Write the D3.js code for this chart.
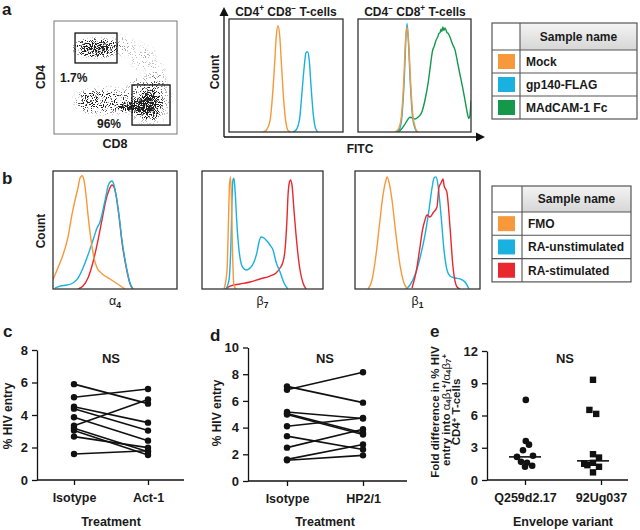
<!DOCTYPE html>
<html><head><meta charset="utf-8">
<script src="https://cdn.jsdelivr.net/npm/d3@7"></script>
<style>
body{margin:0;background:#fff}
svg{display:block}
text{font-family:"Liberation Sans",Arial,Helvetica,sans-serif;font-weight:bold;fill:#1a1a1a}
</style>
</head><body>
<script>
// ================= DATA =================
// Panel a – dot plot populations (CD8, CD4 channel units 0-1023)
const popCD8     = [350, 424, 283, 798, 715, 607, 782, 566, 740, 857, 690];
const popCD4     = [779, 299, 290, 272, 253, 244, 308, 797, 688, 507, 420];
const popSpreadX = [133, 183, 67, 70, 75, 67, 140, 83, 83, 58, 70];
const popSpreadY = [63, 91, 72, 100, 54, 32, 163, 72, 91, 109, 60];
const popDensity = [0.8, 0.32, 0.22, 1, 1, 0.85, 0.22, 0.12, 0.1, 0.12, 0.08];
const gateCD8 = [[175, 524], [649, 965]];
const gateCD4 = [[643, 914], [81, 444]];
const gateLabels = ["1.7%", "96%"];

// Panel a – histograms (FITC channel 0-100, count % of max)
const aCD4Mock  = [[30,0],[33,2],[36,10],[38,30],[40,60],[41.5,85],[43,94],[44.5,85],[46,60],[48,28],[50,8],[52,1],[54,0]];
const aCD4Gp140 = [[56,0],[59,2],[62,12],[64,35],[66,58],[67.5,70],[69,71],[70.5,62],[72,40],[74,15],[76,3],[78,0]];
const aCD8Mock  = [[33,0],[36,3],[38.5,15],[40.5,45],[42,80],[43.4,93],[44.8,80],[46.5,45],[48.5,15],[51,3],[53,0]];
const aCD8Gp140 = [[34,0],[37,3],[39,15],[41,48],[42.5,85],[43.4,96],[44.5,82],[46.2,45],[48.2,14],[50.5,3],[52.5,0]];
const aCD8MAdCAM = [[35.4,0],[38,2],[41,6],[44,11],[46,13],[48,12.5],[50.4,11.5],[53,13],[56.6,18],[59,27],[62,43],[64,58],[66,72],[67.5,76],[69,81],[70.5,84],[71.5,87],[72.6,88],[73.5,91],[74.3,89],[75,93],[76,90],[77,92],[78.8,88],[80,87],[81.4,84],[83.5,78],[86,72],[88,62],[90,52],[92.5,40],[94.7,28],[96.5,18],[98,12],[99,14],[100,28]];

// Panel b – histograms
const bA4FMO   = [[0,8],[4,18],[8.1,29],[12.1,44],[15.3,63],[17.7,75],[20.2,86],[21.8,94],[23.4,96],[25,92],[26.6,80],[28.2,63],[30.6,42],[33.1,26],[35.5,18],[39.5,13],[46,8.5],[52.4,4],[58,0]];
const bA4Unst  = [[1.6,0.8],[5.6,2.5],[11.3,3.4],[16.1,5.1],[20.2,9.3],[24.2,17.8],[28.2,28.8],[32.3,41.5],[35.5,51.7],[37.9,56.8],[40.3,67],[42.7,78.8],[44.4,87.3],[46,90.7],[47.6,91.5],[49.2,88],[50.8,79.7],[53.2,62.7],[55.6,41.5],[58.9,20.3],[62.1,5.1],[64.5,0]];
const bA4Stim  = [[20.2,0],[24.2,2.5],[28.2,9.3],[32.3,22.9],[36.3,41.5],[39.5,58.5],[42.7,75.4],[45.2,83.9],[47.6,88.1],[49.2,86.4],[50.8,79.7],[53.2,62],[55.6,40],[58.9,19],[62.1,4.5],[64.5,0]];
const bB7FMO   = [[18.2,0],[20.7,16],[21.9,58.5],[22.7,88],[23.6,95],[24.4,75],[25.2,33],[26.4,3.4],[28.1,0]];
const bB7Unst  = [[19.8,0],[22.3,7.6],[24,41.5],[24.8,75.4],[25.6,92.4],[26.4,94],[27.3,83.9],[28.9,54.2],[30.6,33],[33.1,19.5],[36.4,16.1],[39.7,17.8],[43,22.9],[45.5,31.4],[47.1,39.8],[48.8,44.1],[51.2,43.2],[52.9,41.5],[56.2,37.3],[58.7,33],[61.2,22.9],[64.5,14.4],[67.8,5.1],[71,0]];
const bB7Stim  = [[19.8,0],[23.1,2.5],[31.4,4.2],[39.7,5.9],[47.9,8.5],[56.2,11],[61.2,13.6],[64.5,17.8],[66.9,22.9],[68.6,33],[70.2,58.5],[71.1,79.7],[72.3,90.7],[73.1,92.4],[74.4,88.1],[76,67],[78.5,37.3],[81,16.1],[83.5,5.1],[86,0]];
const bB1FMO   = [[10.4,0],[13.6,7.6],[16.8,28.8],[20,58.5],[22.4,79.7],[24.8,92.4],[25.6,95],[27.2,90.7],[29.6,75.4],[32.8,45.8],[36,20.3],[39.2,5.1],[42.4,0]];
const bB1Unst  = [[40.8,0],[44,3.4],[48,11.9],[52,26.3],[56,45.8],[59.2,67],[61.6,85.6],[63.2,94],[64.8,95],[66.4,88.1],[68.8,62.7],[71.2,33],[73.6,16.1],[76,11],[80,9.3],[84,8.5],[88,5.9],[91.2,0]];
const bB1Stim  = [[45.6,0.8],[49,15],[52,35.6],[54,50],[56,58.5],[57.6,62.7],[60,61],[62.4,64.4],[65.6,69.5],[67.2,86.4],[68.8,89.8],[70.4,93.2],[71.2,88.1],[73.6,81.4],[76,52.5],[78.4,18.6],[81.6,1.7],[84,0]];

const legendA = ["Mock", "gp140-FLAG", "MAdCAM-1 Fc"];
const legendB = ["FMO", "RA-unstimulated", "RA-stimulated"];

// Panel c
const cCats = ["Isotype", "Act-1"];
const cIsotype = [5.9, 5.09, 4.51, 4.39, 3.86, 3.34, 3.18, 3.04, 2.67, 1.6];
const cAct1    = [4.7, 5.6, 3.53, 3.04, 2.42, 4.95, 1.74, 1.54, 1.99, 1.8];
const cTicks = [0, 2, 4, 6, 8];
// Panel d
const dCats = ["Isotype", "HP2/1"];
const dIsotype = [6.84, 7.09, 5.17, 5.05, 4.98, 4.1, 3.36, 2.5, 1.62, 1.55];
const dHP21    = [8.15, 5.87, 4.68, 3.6, 3.48, 4.72, 2.36, 3.88, 2.74, 1.92];
const dTicks = [0, 2, 4, 6, 8, 10];
// Panel e
const eCats = ["Q259d2.17", "92Ug037"];
const eQ259   = [7.45, 3.63, 3.29, 2.77, 2.15, 2.25, 1.69, 1.6, 1.32, 1.23];
const eQ259Jit = [0.1, 0.1, 0.5, -0.25, -1, 1, -0.5, 0.25, 0.9, 0];
const e92Ug   = [9.32, 6.52, 6.15, 2.4, 2.09, 1.51, 1.38, 1.6, 1.23, 0.71];
const e92UgJit = [-1, -1.45, -0.6, -1, -0.25, -2.1, -1.7, -1, -0.25, -1];
const eMedians = [2.15, 1.78];
const eMedJit = [0, -1];
const eTicks = [0, 3, 6, 9, 12];

// ================= DRAWING =================
const C = {orange:"#F7983A", cyan:"#1AB0E0", green:"#14984A", red:"#E8282E"};
const svg = d3.select("body").append("svg").attr("width",640).attr("height",530);
svg.append("rect").attr("width",640).attr("height",530).attr("fill","#fff");
const defs = svg.append("defs");
let clipN = 0;

function rich(sel, parts, size, k){
  k = k || 1;
  let cur = 0;
  parts.forEach(p=>{
    const t = sel.append("tspan").text(p.t);
    let target = 0, fs = size;
    if (p.s==="sup"){ target = -size*0.4*k; fs = size*0.68; }
    if (p.s==="sub"){ target = size*0.25*k; fs = size*0.68; }
    t.attr("dy", target-cur).attr("font-size", fs);
    if (p.w) t.attr("font-weight", p.w);
    cur = target;
  });
}

function letter(x,y,s){ svg.append("text").attr("x",x).attr("y",y).attr("font-size",17).text(s); }

// ---------- Panel a: dot plot ----------
letter(2,15,"a");
const sx = d3.scaleLinear().domain([0,1023]).range([54,177]);
const sy = d3.scaleLinear().domain([0,1023]).range([134,21]);
{
  const f = defs.append("filter").attr("id","speckle").attr("filterUnits","userSpaceOnUse")
    .attr("x",54).attr("y",21).attr("width",123).attr("height",113)
    .attr("color-interpolation-filters","sRGB");
  f.append("feTurbulence").attr("type","fractalNoise").attr("baseFrequency",0.9)
    .attr("numOctaves",1).attr("seed",4).attr("result","noise");
  f.append("feColorMatrix").attr("in","noise").attr("type","matrix")
    .attr("values","0 0 0 0 0  0 0 0 0 0  0 0 0 0 0  4 0 0 0 -1.5").attr("result","nA");
  f.append("feComposite").attr("in","SourceGraphic").attr("in2","nA").attr("operator","arithmetic")
    .attr("k1",0).attr("k2",4).attr("k3",-4).attr("k4",0).attr("result","dots");
  f.append("feColorMatrix").attr("in","dots").attr("type","matrix")
    .attr("values","1 0 0 0 0.12  0 1 0 0 0.12  0 0 1 0 0.12  0 0 0 1 0");
  defs.append("clipPath").attr("id","scClip").append("rect").attr("x",54).attr("y",21).attr("width",123).attr("height",113);
  const g = svg.append("g").attr("clip-path","url(#scClip)").append("g").attr("filter","url(#speckle)");
  popCD8.forEach((v,i)=>{
    const gr = defs.append("radialGradient").attr("id","pg"+i);
    const d = popDensity[i];
    gr.append("stop").attr("offset",0).attr("stop-color","#000").attr("stop-opacity",d);
    gr.append("stop").attr("offset",0.45).attr("stop-color","#000").attr("stop-opacity",d*0.8);
    gr.append("stop").attr("offset",0.8).attr("stop-color","#000").attr("stop-opacity",d*0.3);
    gr.append("stop").attr("offset",1).attr("stop-color","#000").attr("stop-opacity",0);
    g.append("ellipse").attr("cx",sx(v)).attr("cy",sy(popCD4[i]))
      .attr("rx",(sx(popSpreadX[i])-sx(0))*1.6).attr("ry",(sy(0)-sy(popSpreadY[i]))*1.6)
      .attr("fill",`url(#pg${i})`);
  });
  svg.append("rect").attr("x",54).attr("y",21).attr("width",123).attr("height",113)
    .attr("fill","none").attr("stroke","#777").attr("stroke-width",1);
  gateCD8.forEach((gx,i)=>{
    svg.append("rect").attr("x",sx(gx[0])).attr("y",sy(gateCD4[i][1]))
      .attr("width",sx(gx[1])-sx(gx[0])).attr("height",sy(gateCD4[i][0])-sy(gateCD4[i][1]))
      .attr("fill","none").attr("stroke","#111").attr("stroke-width",1.3);
  });
  svg.append("text").attr("x",sx(gateCD8[0][0])-15).attr("y",sy(gateCD4[0][0])+19).attr("font-size",12).text(gateLabels[0]);
  svg.append("text").attr("x",sx(gateCD8[1][0])-11).attr("y",sy(gateCD4[1][0])+3).attr("font-size",12).attr("text-anchor","end").text(gateLabels[1]);
  svg.append("text").attr("transform","translate(45,77) rotate(-90)").attr("text-anchor","middle").attr("font-size",12).text("CD4");
  svg.append("text").attr("x",115).attr("y",148).attr("text-anchor","middle").attr("font-size",12.5).text("CD8");
}

// ---------- histogram helper ----------
function hist(x0,x1,y0,y1,curves,sw){
  const x = d3.scaleLinear().domain([0,100]).range([x0,x1]);
  const y = d3.scaleLinear().domain([0,100]).range([y1,y0]);
  const id = "hc"+(clipN++);
  defs.append("clipPath").attr("id",id).append("rect").attr("x",x0).attr("y",y0).attr("width",x1-x0).attr("height",y1-y0);
  const g = svg.append("g").attr("clip-path",`url(#${id})`);
  const line = d3.line().x(d=>x(d[0])).y(d=>y(d[1])).curve(d3.curveMonotoneX);
  curves.forEach(c=>g.append("path").attr("d",line(c[0])).attr("fill","none")
    .attr("stroke",c[1]).attr("stroke-width",sw||1.4).attr("stroke-linejoin","round"));
  svg.append("rect").attr("x",x0).attr("y",y0).attr("width",x1-x0).attr("height",y1-y0)
    .attr("fill","none").attr("stroke","#333").attr("stroke-width",1.3);
}

// ---------- Panel a: histograms ----------
hist(229,343,19,132,[[aCD4Gp140,C.cyan],[aCD4Mock,C.orange]]);
hist(358,471,19,132,[[aCD8MAdCAM,C.green],[aCD8Gp140,C.cyan],[aCD8Mock,C.orange]]);
{
  const t1 = svg.append("text").attr("x",286).attr("y",16).attr("text-anchor","middle").attr("font-size",12);
  rich(t1,[{t:"CD4"},{t:"+",s:"sup"},{t:" CD8"},{t:"\u2212",s:"sup"},{t:" T-cells"}],12);
  const t2 = svg.append("text").attr("x",415).attr("y",16).attr("text-anchor","middle").attr("font-size",12);
  rich(t2,[{t:"CD4"},{t:"\u2212",s:"sup"},{t:" CD8"},{t:"+",s:"sup"},{t:" T-cells"}],12);
  svg.append("line").attr("x1",224).attr("y1",137).attr("x2",224).attr("y2",14).attr("stroke","#111").attr("stroke-width",1.3);
  svg.append("line").attr("x1",224).attr("y1",137).attr("x2",478).attr("y2",137).attr("stroke","#111").attr("stroke-width",1.3);
  svg.append("path").attr("d","M224,7 L219.5,16 L228.5,16 Z").attr("fill","#111");
  svg.append("path").attr("d","M485,137 L476,132.5 L476,141.5 Z").attr("fill","#111");
  svg.append("text").attr("transform","translate(219,72) rotate(-90)").attr("text-anchor","middle").attr("font-size",12).text("Count");
  svg.append("text").attr("x",360).attr("y",153).attr("text-anchor","middle").attr("font-size",12).text("FITC");
}

// ---------- legend helper ----------
const hg = defs.append("linearGradient").attr("id","hdrGrad").attr("x1",0).attr("y1",0).attr("x2",0).attr("y2",1);
hg.append("stop").attr("offset",0).attr("stop-color","#f4f4f4");
hg.append("stop").attr("offset",1).attr("stop-color","#d6d6d6");
function legendTable(x0,x1,xd,yTop,hdrH,rowH,labels,colors){
  const yRows = yTop+hdrH;
  const yEnd = yRows + rowH*labels.length;
  svg.append("rect").attr("x",xd).attr("y",yTop).attr("width",x1-xd).attr("height",hdrH).attr("fill","url(#hdrGrad)");
  svg.append("rect").attr("x",x0).attr("y",yTop).attr("width",x1-x0).attr("height",yEnd-yTop)
    .attr("fill","none").attr("stroke","#555").attr("stroke-width",1.2);
  svg.append("line").attr("x1",xd).attr("x2",xd).attr("y1",yTop).attr("y2",yEnd).attr("stroke","#555").attr("stroke-width",1.1);
  for (let i=0;i<labels.length;i++){
    const yy = yRows + rowH*i;
    svg.append("line").attr("x1",x0).attr("x2",x1).attr("y1",yy).attr("y2",yy).attr("stroke","#555").attr("stroke-width",1.1);
    svg.append("rect").attr("x",x0+6).attr("y",yy+rowH/2-7.5).attr("width",17).attr("height",15).attr("fill",colors[i]);
    svg.append("text").attr("x",xd+6).attr("y",yy+rowH/2+4.3).attr("font-size",12).text(labels[i]);
  }
  svg.append("text").attr("x",(xd+x1)/2).attr("y",yTop+hdrH/2+4.3).attr("text-anchor","middle").attr("font-size",12).text("Sample name");
}
legendTable(492,637,520,23,27,23,legendA,[C.orange,C.cyan,C.green]);

// ---------- Panel b ----------
letter(2,184,"b");
hist(53,177,171,289,[[bA4Stim,C.red],[bA4Unst,C.cyan],[bA4FMO,C.orange]]);
hist(202,323,171,289,[[bB7Stim,C.red],[bB7Unst,C.cyan],[bB7FMO,C.orange]]);
hist(355,480,171,289,[[bB1Unst,C.cyan],[bB1Stim,C.red],[bB1FMO,C.orange]]);
svg.append("text").attr("transform","translate(45,231) rotate(-90)").attr("text-anchor","middle").attr("font-size",12).text("Count");
[[115,"\u03b1","4"],[262.5,"\u03b2","7"],[417.5,"\u03b2","1"]].forEach(d=>{
  const t = svg.append("text").attr("x",d[0]).attr("y",305).attr("text-anchor","middle").attr("font-size",12.5);
  rich(t,[{t:d[1],w:"normal"},{t:d[2],s:"sub"}],12.5);
});
legendTable(492,631,522,186,26,23.3,legendB,[C.orange,C.cyan,C.red]);

// ---------- paired panels (c, d) ----------
function axisStyle(g){
  g.selectAll("text").attr("font-weight","bold").attr("fill","#1a1a1a").attr("font-family","Liberation Sans, Arial, sans-serif");
  g.selectAll("line,path").attr("stroke","#111").attr("stroke-width",1.3);
}
function paired(o){
  const y = d3.scaleLinear().domain([0,o.max]).range([o.yb,o.yt]);
  const x = d3.scalePoint().domain(o.cats).range(o.catX);
  const ya = svg.append("g").attr("transform",`translate(${o.ax},0)`)
    .call(d3.axisLeft(y).tickValues(o.ticks).tickSize(5).tickSizeOuter(0).tickPadding(4));
  ya.selectAll("text").attr("font-size",13);
  axisStyle(ya);
  const xa = svg.append("g").attr("transform",`translate(0,${o.yb})`)
    .call(d3.axisBottom(x).tickSize(5).tickSizeOuter(0).tickPadding(8));
  xa.select(".domain").remove();
  xa.selectAll("text").attr("font-size",12.5);
  axisStyle(xa);
  svg.append("line").attr("x1",o.ax).attr("x2",o.xEnd).attr("y1",o.yb).attr("y2",o.yb).attr("stroke","#111").attr("stroke-width",1.3);
  o.a.forEach((v,i)=>{
    svg.append("line").attr("x1",x(o.cats[0])).attr("y1",y(v)).attr("x2",x(o.cats[1])).attr("y2",y(o.b[i]))
      .attr("stroke","#111").attr("stroke-width",1.6);
  });
  o.a.forEach((v,i)=>{
    svg.append("circle").attr("cx",x(o.cats[0])).attr("cy",y(v)).attr("r",3.2).attr("fill","#111");
    svg.append("circle").attr("cx",x(o.cats[1])).attr("cy",y(o.b[i])).attr("r",3.2).attr("fill","#111");
  });
  svg.append("text").attr("x",(o.catX[0]+o.catX[1])/2).attr("y",363).attr("text-anchor","middle").attr("font-size",13).text("NS");
  svg.append("text").attr("x",(o.catX[0]+o.catX[1])/2).attr("y",526).attr("text-anchor","middle").attr("font-size",12.5).text(o.xlabel);
  svg.append("text").attr("transform",`translate(${o.ylx},${o.yly}) rotate(-90)`).attr("text-anchor","middle").attr("font-size",12).text("% HIV entry");
}
letter(3,337,"c");
paired({max:8,yb:480,yt:350,ax:37,xEnd:184,cats:cCats,catX:[74,148],ticks:cTicks,a:cIsotype,b:cAct1,xlabel:"Treatment",ylx:12,yly:416});
letter(210,341,"d");
paired({max:10,yb:481,yt:347.5,ax:248,xEnd:407,cats:dCats,catX:[287,363],ticks:dTicks,a:dIsotype,b:dHP21,xlabel:"Treatment",ylx:221,yly:413});

// ---------- Panel e ----------
letter(430,337,"e");
{
  const y = d3.scaleLinear().domain([0,12]).range([480,351]);
  const x = d3.scalePoint().domain(eCats).range([525,601]);
  const jw = 8;
  const ya = svg.append("g").attr("transform","translate(487,0)")
    .call(d3.axisLeft(y).tickValues(eTicks).tickSize(5).tickSizeOuter(0).tickPadding(4));
  ya.selectAll("text").attr("font-size",13);
  axisStyle(ya);
  const xa = svg.append("g").attr("transform","translate(0,480)")
    .call(d3.axisBottom(x).tickSize(5).tickSizeOuter(0).tickPadding(8));
  xa.select(".domain").remove();
  xa.selectAll("text").attr("font-size",12.5);
  axisStyle(xa);
  svg.append("line").attr("x1",487).attr("x2",628).attr("y1",480).attr("y2",480).attr("stroke","#111").attr("stroke-width",1.3);
  eQ259.forEach((v,i)=>svg.append("circle").attr("cx",x(eCats[0])+eQ259Jit[i]*jw).attr("cy",y(v)).attr("r",3.3).attr("fill","#111"));
  e92Ug.forEach((v,i)=>svg.append("rect").attr("x",x(eCats[1])+e92UgJit[i]*jw-3.2).attr("y",y(v)-3.2).attr("width",6.4).attr("height",6.4).attr("fill","#111"));
  eMedians.forEach((m,i)=>svg.append("line").attr("x1",x(eCats[i])+eMedJit[i]*jw-16).attr("x2",x(eCats[i])+eMedJit[i]*jw+16)
    .attr("y1",y(m)).attr("y2",y(m)).attr("stroke","#111").attr("stroke-width",1.6));
  svg.append("text").attr("x",565).attr("y",363).attr("text-anchor","middle").attr("font-size",13).text("NS");
  svg.append("text").attr("x",563).attr("y",526).attr("text-anchor","middle").attr("font-size",12.5).text("Envelope variant");
  const l1 = svg.append("text").attr("transform","translate(439,412) rotate(-90)").attr("text-anchor","middle").attr("font-size",11.5);
  l1.text("Fold difference in % HIV");
  const l2 = svg.append("text").attr("transform","translate(449.5,410) rotate(-90)").attr("text-anchor","middle").attr("font-size",11.5);
  rich(l2,[{t:"entry into "},{t:"\u03b1",w:"normal"},{t:"4",s:"sub"},{t:"\u03b2",w:"normal"},{t:"1",s:"sub"},{t:"+",s:"sup"},{t:"/"},{t:"\u03b1",w:"normal"},{t:"4",s:"sub"},{t:"\u03b2",w:"normal"},{t:"7",s:"sub"},{t:"+",s:"sup"}],11.5,0.55);
  const l3 = svg.append("text").attr("transform","translate(460,412) rotate(-90)").attr("text-anchor","middle").attr("font-size",11.5);
  rich(l3,[{t:"CD4"},{t:"+",s:"sup"},{t:" T-cells"}],11.5,0.7);
}
</script>
</body></html>
